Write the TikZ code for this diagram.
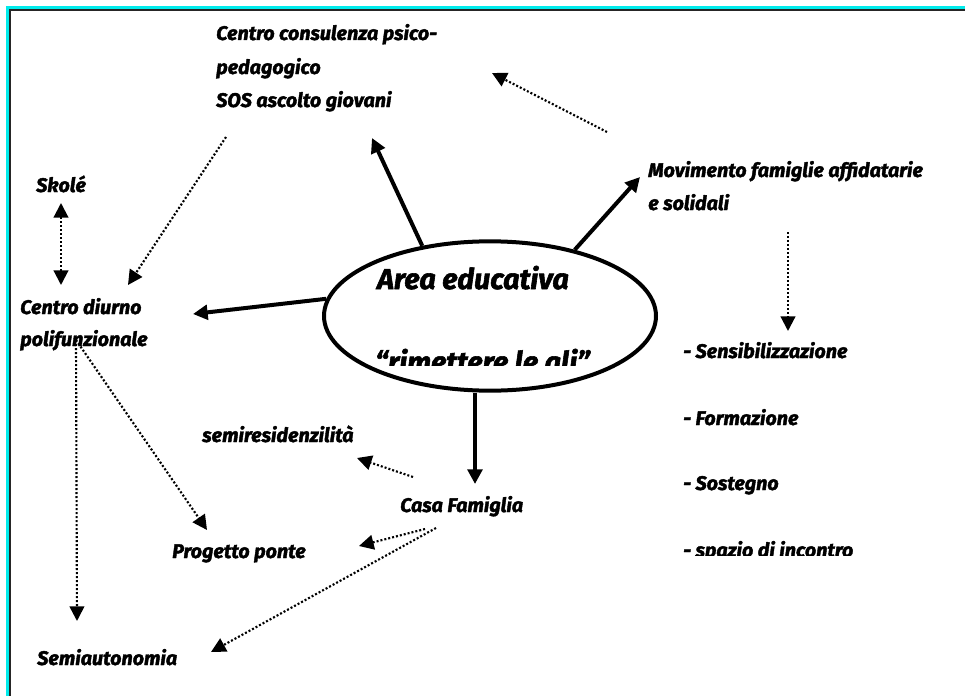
\documentclass[tikz,border=0pt]{standalone}
\usepackage{fontspec}
\setmainfont{Fira Sans}[BoldItalicFeatures={FakeBold=2}]
\usetikzlibrary{shapes.geometric,arrows.meta}
\definecolor{framecyan}{RGB}{0,235,235}
\begin{document}
\begin{tikzpicture}[x=0.75pt,y=-0.75pt,
  lbl/.style={anchor=base west,inner sep=0pt,font=\fontsize{14.8}{17}\selectfont\bfseries\itshape},
  big/.style={anchor=base west,inner sep=0pt,font=\fontsize{21.5}{24}\selectfont\bfseries\itshape},
  solidarr/.style={line width=3pt,-{Triangle[length=11pt,width=11pt]}},
  dotarr/.style={line width=1.6pt,dash pattern=on 1.5pt off 1.5pt,-{Triangle[length=11pt,width=11pt]}},
  dotarrboth/.style={line width=1.6pt,dash pattern=on 1.5pt off 1.5pt,{Triangle[length=11pt,width=11pt]}-{Triangle[length=11pt,width=11pt]}},
]
\useasboundingbox (0,0) rectangle (965,696);
\fill[white] (0,0) rectangle (965,696);
% frame
\draw[framecyan,line width=2.25pt] (7,696) -- (7,7) -- (965,7);
\draw[black!85,line width=1.5pt] (9.5,696) -- (9.5,9.5) -- (965,9.5);

% central ellipse
\node[ellipse,draw,line width=3pt,minimum width=249pt,minimum height=112pt,inner sep=0pt] (ell) at (490,316) {};
\node[big] (area) at (377,289) {Area educativa};
\begin{scope}
  \clip (300,345) rectangle (700,365);
  \node[big] (ali) at (375,372) {“rimettere le ali”};
\end{scope}

% labels
\node[lbl] (cc1) at (216,40) {Centro consulenza psico-};
\node[lbl] (cc2) at (216,74) {pedagogico};
\node[lbl] (cc3) at (216,107) {SOS ascolto giovani};
\node[lbl] (mov1) at (648,177) {Movimento famiglie affidatarie};
\node[lbl] (mov2) at (648,210) {e solidali};
\node[lbl] (skole) at (36,192) {Skolé};
\node[lbl] (cd1) at (20,314) {Centro diurno};
\node[lbl] (cd2) at (20,346) {polifunzionale};
\node[lbl] (semres) at (202,442) {semiresidenzilità};
\node[lbl] (casa) at (400,512) {Casa Famiglia};
\node[lbl] (ponte) at (172,558) {Progetto ponte};
\node[lbl] (semiaut) at (37,665) {Semiautonomia};
\node[lbl] (sens) at (683,358) {- Sensibilizzazione};
\node[lbl] (form) at (683,425) {- Formazione};
\node[lbl] (sost) at (683,490) {- Sostegno};
\begin{scope}
  \clip (600,530) rectangle (965,555);
  \node[lbl] (spazio) at (683,557) {- spazio di incontro};
\end{scope}

% coordinates for free ends
\coordinate (tCC) at (372,138);
\coordinate (tMov) at (640,177);
\coordinate (tCD) at (193,314);
\coordinate (tCasa) at (475,484);
\coordinate (sMovCC) at (607,132);
\coordinate (tMovCC) at (492,73);
\coordinate (sCCCD) at (226,137);
\coordinate (tCCCD) at (128,285);
\coordinate (skA) at (61,203);
\coordinate (skB) at (61,285);
\coordinate (sMovD) at (788,232);
\coordinate (tMovD) at (788,331);
\coordinate (sCD) at (76,340);
\coordinate (tSemiaut) at (77,621);
\coordinate (tPonte) at (207,530);
\coordinate (sCasaA) at (413,477);
\coordinate (tSemres) at (357,458);
\coordinate (sCasaB) at (425,529);
\coordinate (tPonte2) at (359,546);
\coordinate (sCasaC) at (436,528);
\coordinate (tSemiaut2) at (211,652);

% solid arrows
\draw[solidarr] (ell.134) -- (tCC);
\draw[solidarr] (ell.38) -- (tMov);
\draw[solidarr] (ell.174) -- (tCD);
\draw[solidarr] (ell.south -| tCasa) -- (tCasa);

% dotted arrows
\draw[dotarr] (sMovCC) -- (tMovCC);
\draw[dotarr] (sCCCD) -- (tCCCD);
\draw[dotarrboth] (skA) -- (skB);
\draw[dotarr] (sMovD) -- (tMovD);
\draw[dotarr] (sCD) -- (tSemiaut);
\draw[dotarr] (sCD) -- (tPonte);
\draw[dotarr] (sCasaA) -- (tSemres);
\draw[dotarr] (sCasaB) -- (tPonte2);
\draw[dotarr] (sCasaC) -- (tSemiaut2);
\end{tikzpicture}
\end{document}
